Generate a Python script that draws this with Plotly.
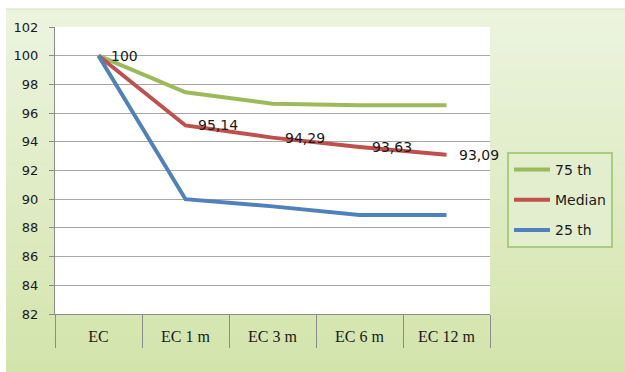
import numpy as np
import plotly.graph_objects as go

# ---- data ----
categories = ["EC", "EC 1 m", "EC 3 m", "EC 6 m", "EC 12 m"]
p75 = [100, 97.45, 96.65, 96.55, 96.55]
median = [100, 95.14, 94.29, 93.63, 93.09]
p25 = [100, 90.0, 89.5, 88.9, 88.9]
y_ticks = list(range(82, 103, 2))

# ---- canvas geometry ----
W, H = 625, 372
ML, MR, MT, MB = 55, 135, 27, 58
PW, PH = W - ML - MR, H - MT - MB


def px_to_paper_x(px):
    return (px - ML) / PW


def px_to_paper_y(py):
    return (H - MB - py) / PH


GREEN, RED, BLUE = "#9bbb59", "#c0504d", "#4f81bd"

fig = go.Figure()
series = [("75 th", p75, GREEN), ("Median", median, RED), ("25 th", p25, BLUE)]
for name, vals, col in series:
    fig.add_trace(go.Scatter(
        x=categories, y=vals, name=name, mode="lines",
        line=dict(color=col, width=4), legendgroup=name,
        hoverinfo="skip",
    ))

# value labels for the median series
for cat, v in zip(categories, median):
    txt = f"{v:g}".replace(".", ",")
    if "," in txt and len(txt.split(",")[1]) == 1:
        txt += "0"
    fig.add_annotation(
        x=cat, y=v, text=txt, showarrow=False, xanchor="left", yanchor="middle",
        xshift=10, font=dict(family="DejaVu Sans", size=14, color="#1a1a1a"),
    )

# ---- background: soft green vertical gradient over the chart area ----
shapes = []
top_px, bot_px, left_px = 9, H, 6
n_bands = 60
c_top = np.array([0xEC, 0xF4, 0xDF])
c_bot = np.array([0xD3, 0xE4, 0xAB])
edges = np.linspace(top_px, bot_px, n_bands + 1)
for i in range(n_bands):
    t = i / (n_bands - 1)
    c = (c_top * (1 - t) + c_bot * t).round().astype(int)
    shapes.append(dict(
        type="rect", xref="paper", yref="paper", layer="below",
        x0=px_to_paper_x(left_px), x1=px_to_paper_x(W + 2),
        y0=px_to_paper_y(edges[i + 1] + 0.5), y1=px_to_paper_y(edges[i]),
        line=dict(width=0), fillcolor=f"rgb({c[0]},{c[1]},{c[2]})",
    ))
# thin top edge of the chart area
shapes.append(dict(
    type="line", xref="paper", yref="paper", layer="below",
    x0=px_to_paper_x(left_px), x1=px_to_paper_x(W + 2),
    y0=px_to_paper_y(top_px), y1=px_to_paper_y(top_px),
    line=dict(color="#cfdcba", width=1),
))
# white plotting area
shapes.append(dict(
    type="rect", xref="paper", yref="paper", layer="below",
    x0=0, x1=1, y0=0, y1=1, line=dict(width=0), fillcolor="white",
))

fig.update_layout(
    width=W, height=H,
    margin=dict(l=ML, r=MR, t=MT, b=MB, pad=0),
    paper_bgcolor="white",
    plot_bgcolor="rgba(0,0,0,0)",
    shapes=shapes,
    showlegend=True,
    legend=dict(
        x=px_to_paper_x(507), y=px_to_paper_y(152),
        xanchor="left", yanchor="top",
        bgcolor="#e3eecf", bordercolor="#a9cd7c", borderwidth=2,
        font=dict(family="DejaVu Sans", size=14, color="#1a1a1a"),
        traceorder="grouped", tracegroupgap=9,
        itemwidth=36,
    ),
    xaxis=dict(
        type="category", categoryorder="array", categoryarray=categories,
        range=[-0.5, len(categories) - 0.5],
        showgrid=False, zeroline=False,
        showline=True, linecolor="#8c8c8c", linewidth=1,
        ticks="outside", tickson="boundaries", ticklen=33,
        tickcolor="#8c8c8c", tickwidth=1,
        ticklabelstandoff=8,
        tickfont=dict(family="Liberation Serif", size=16, color="#1a1a1a"),
    ),
    yaxis=dict(
        range=[82, 102], tickvals=y_ticks,
        showgrid=True, gridcolor="#a6a6a6", gridwidth=1,
        zeroline=False,
        showline=True, linecolor="#8c8c8c", linewidth=1,
        ticks="outside", ticklen=5, tickcolor="#8c8c8c",
        ticklabelstandoff=8,
        tickfont=dict(family="DejaVu Sans", size=13, color="#1a1a1a"),
    ),
)

fig.write_html("out.html", config=dict(displayModeBar=False))
